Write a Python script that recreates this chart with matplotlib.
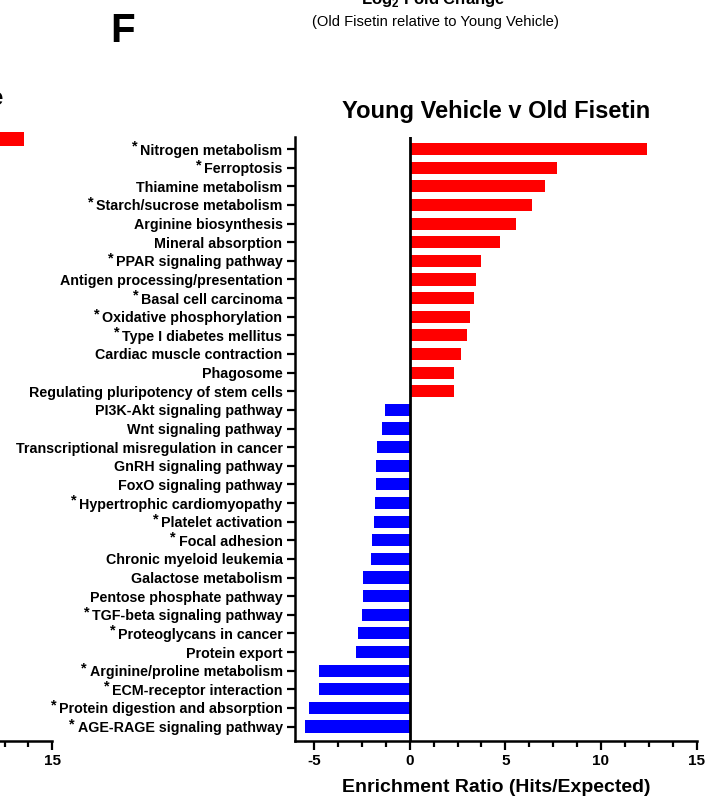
import matplotlib
matplotlib.use("Agg")
import matplotlib.pyplot as plt
import numpy as np
from matplotlib.ticker import MultipleLocator, FixedFormatter

plt.rcParams['font.family'] = ['Liberation Sans', 'DejaVu Sans']
plt.rcParams['mathtext.fontset'] = 'custom'
plt.rcParams['mathtext.rm'] = 'Liberation Sans:bold'
plt.rcParams['mathtext.bf'] = 'Liberation Sans:bold'
plt.rcParams['axes.unicode_minus'] = False

# KEGG pathways, top to bottom, with enrichment ratio (positive = up, negative = down)
pathways = [
    "Nitrogen metabolism", "Ferroptosis", "Thiamine metabolism",
    "Starch/sucrose metabolism", "Arginine biosynthesis", "Mineral absorption",
    "PPAR signaling pathway", "Antigen processing/presentation",
    "Basal cell carcinoma", "Oxidative phosphorylation",
    "Type I diabetes mellitus", "Cardiac muscle contraction", "Phagosome",
    "Regulating pluripotency of stem cells", "PI3K-Akt signaling pathway",
    "Wnt signaling pathway", "Transcriptional misregulation in cancer",
    "GnRH signaling pathway", "FoxO signaling pathway",
    "Hypertrophic cardiomyopathy", "Platelet activation", "Focal adhesion",
    "Chronic myeloid leukemia", "Galactose metabolism",
    "Pentose phosphate pathway", "TGF-beta signaling pathway",
    "Proteoglycans in cancer", "Protein export",
    "Arginine/proline metabolism", "ECM-receptor interaction",
    "Protein digestion and absorption", "AGE-RAGE signaling pathway",
]
enrichment = [
    12.4, 7.7, 7.05, 6.4, 5.55, 4.7, 3.75, 3.47, 3.34, 3.13, 3.01, 2.69,
    2.31, 2.31,
    -1.30, -1.46, -1.70, -1.75, -1.77, -1.83, -1.88, -1.96, -2.05, -2.45,
    -2.45, -2.52, -2.69, -2.80, -4.72, -4.75, -5.26, -5.47,
]
significant = [
    True, True, False, True, False, False, True, False, True, True, True,
    False, False, False,
    False, False, False, False, False, True, True, True, False, False,
    False, True, True, False, True, True, True, True,
]
x_ticks = [-5, 0, 5, 10, 15]

# neighbouring panel (only its right end falls inside this figure)
neighbour_values = [13.5]

UP, DOWN = "#ff0000", "#0000ff"
W, H = 722, 798
fig = plt.figure(figsize=(W / 100, H / 100), dpi=100)


def px_rect(x0, y0, x1, y1):
    return [x0 / W, 1 - y1 / H, (x1 - x0) / W, (y1 - y0) / H]


def style_xaxis(a, labels):
    a.set_xlim(-6, 15)
    a.set_xticks(x_ticks)
    a.set_xticklabels(labels, fontsize=11, fontweight='bold')
    a.xaxis.set_minor_locator(MultipleLocator(1.25))
    a.tick_params(axis='x', which='major', length=6.5, width=1.6, pad=3)
    a.tick_params(axis='x', which='minor', length=4.3, width=1.6)
    a.spines['bottom'].set_linewidth(1.8)
    a.spines['top'].set_visible(False)
    a.spines['right'].set_visible(False)


# ---- neighbouring panel on the left ----
ax0 = fig.add_axes(px_rect(52.3 - 401.5, 122, 52.3, 740.5))
ax0.barh([17 / 14], neighbour_values, height=1.0, color=UP)
ax0.set_ylim(618.5 / 14, 0)
# only the last tick label of this panel lies inside the figure
style_xaxis(ax0, [""] * (len(x_ticks) - 1) + [str(x_ticks[-1])])
ax0.spines['left'].set_visible(False)
ax0.set_yticks([])
fig.text(3 / W, 1 - 98 / H, "Young Vehicle v Old Vehicle", ha='right',
         va='center', fontsize=17, fontweight='bold')

# ---- main panel ----
ax = fig.add_axes(px_rect(295, 137, 696.5, 740.5))
y = np.arange(len(pathways))
colors = [UP if v > 0 else DOWN for v in enrichment]
ax.barh(y, enrichment, height=0.65, color=colors)
ax.set_ylim(len(pathways) - 1 + 0.75, -0.65)
ax.axvline(0, color='black', lw=2.0, zorder=3)
style_xaxis(ax, [str(t) for t in x_ticks])
ax.spines['left'].set_linewidth(1.8)
ax.set_yticks(y)
ax.set_yticklabels(pathways, fontsize=10.3, fontweight='bold')
ax.tick_params(axis='y', length=6, width=1.6, pad=3)
ax.set_xlabel("Enrichment Ratio (Hits/Expected)", fontsize=14,
              fontweight='bold', labelpad=8)
ax.set_title("Young Vehicle v Old Fisetin", fontsize=17, fontweight='bold',
             pad=14)

# header text
fig.text(110 / W, 1 - 42 / H, "F", fontsize=29, fontweight='bold',
         va='baseline')
fig.text(433 / W, 1 - 4 / H, r"Log$_{2}$ Fold Change", ha='center',
         va='baseline', fontsize=12, fontweight='bold')
fig.text(435 / W, 1 - 22 / H, "(Old Fisetin relative to Young Vehicle)",
         ha='center', va='center', fontsize=10.6)

# significance asterisks placed just before each flagged label, raised
fig.canvas.draw()
renderer = fig.canvas.get_renderer()
inv = fig.transFigure.inverted()
for lab, sig in zip(ax.get_yticklabels(), significant):
    if not sig:
        continue
    bb = lab.get_window_extent(renderer)
    fx, fy = inv.transform((bb.x0 - 2.5, bb.y1 + 4))
    fig.text(fx, fy, "*", ha='right', va='top', fontsize=10.5,
             fontweight='bold')

fig.savefig("out.png", dpi=100)
